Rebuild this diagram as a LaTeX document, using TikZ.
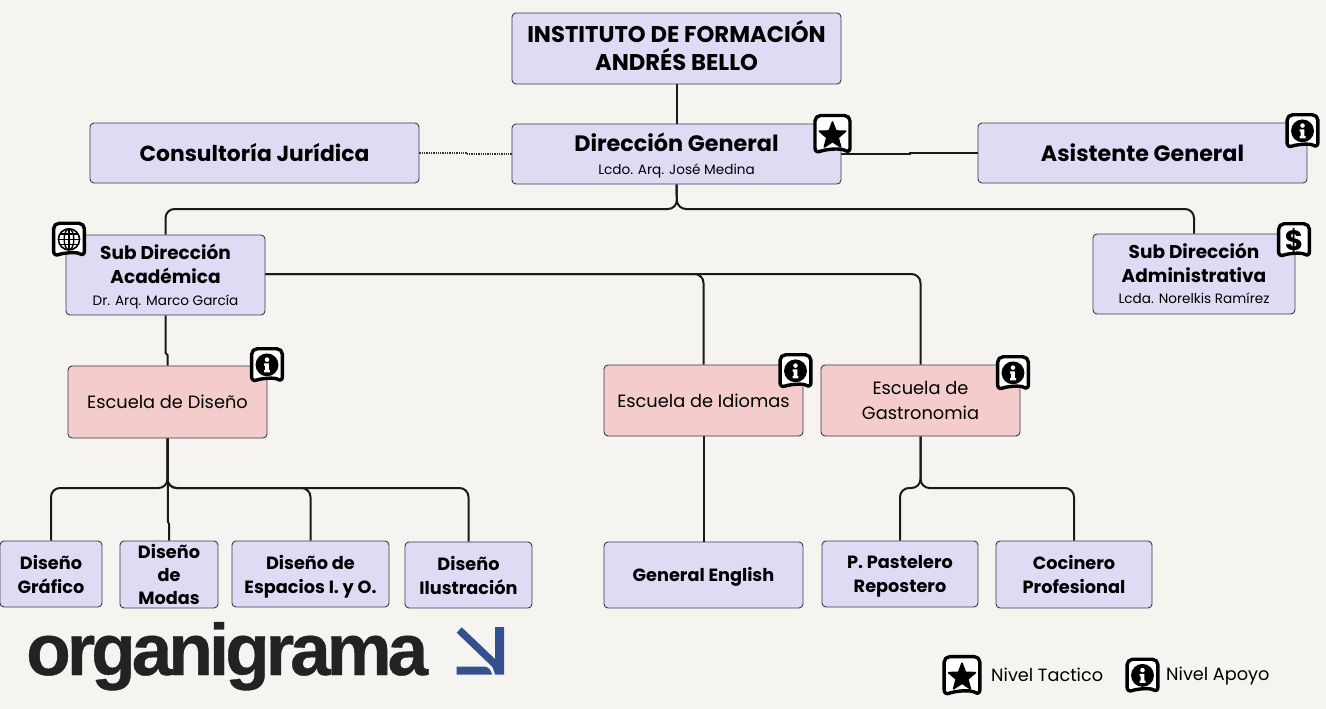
\documentclass[tikz,border=0pt]{standalone}
\usepackage{fontspec}
\setmainfont{Poppins}
\newfontfamily\bigfont[LetterSpace=-5.5,FakeBold=0.5,UprightFont=* Bold]{Liberation Sans}
\usetikzlibrary{backgrounds}
\definecolor{bgc}{HTML}{F5F4F0}
\definecolor{lilac}{HTML}{E0DAF5}
\definecolor{rosa}{HTML}{F4CCCC}
\definecolor{edge}{HTML}{3A3A45}
\definecolor{logoblue}{HTML}{34508F}
\definecolor{logoink}{HTML}{222222}
\newcommand{\tS}{\fontsize{13.6}{15}\selectfont\mdseries}
\tikzset{
  x=1pt,y=-1pt,
  box/.style={draw=edge,line width=.9pt,rounded corners=4pt,inner sep=0pt,align=center,text=black},
  lila/.style={box,fill=lilac},
  pink/.style={box,fill=rosa},
  titlefont/.style={font=\fontsize{22.7}{28}\selectfont\bfseries},
  headfont/.style={font=\fontsize{22.2}{28}\selectfont\bfseries},
  jurfont/.style={font=\fontsize{21.8}{28}\selectfont\bfseries},
  dgfont/.style={font=\fontsize{22.3}{22.5}\selectfont\bfseries},
  subfont/.style={font=\fontsize{18.5}{24}\selectfont\bfseries},
  unitfont/.style={font=\fontsize{17.8}{25}\selectfont},
  leaffont/.style={font=\fontsize{17.7}{24}\selectfont\bfseries},
  modafont/.style={font=\fontsize{17.7}{23}\selectfont\bfseries},
  legendfont/.style={font=\fontsize{17.7}{20}\selectfont},
  link/.style={draw=black!90,line width=2pt,rounded corners=9pt},
  fine/.style={draw=black!80,line width=1.3pt,densely dotted},
  pics/badge/.style={code={
    \path[fill=white,draw=black,line width=3.4pt,rounded corners=5.5pt,line join=round]
      (-17.5,-19) -- (17.5,-19) -- (17.5,19) .. controls (8,13) and (-8,15) .. (-17.5,19) -- cycle;
  }},
  pics/staricon/.style={code={
    \path[fill=black,draw=black,line width=1.6pt,line join=round]
      (0,-14)--(3.4,-5)--(13.2,-4.8)--(5.6,1.6)--(8.2,11)--(0,5.6)--(-8.2,11)--(-5.6,1.6)--(-13.2,-4.8)--(-3.4,-5)--cycle;
  }},
  pics/infoicon/.style={code={
    \fill[black] (0,-3) circle[radius=13];
    \fill[white] (0,-9) circle[radius=2.6];
    \fill[white] (-3.2,-4.8) -- (2.2,-4.8) -- (2.2,3) -- (3.4,3) -- (3.4,5.6) -- (-3.4,5.6) -- (-3.4,3) -- (-2.2,3) -- (-2.2,-2.2) -- (-3.2,-2.2) -- cycle;
  }},
  pics/globeicon/.style={code={
    \draw[black,line width=1.6pt] (0,-3) circle[radius=12];
    \draw[black,line width=1.4pt] (0,-3) ellipse[x radius=5.5,y radius=12];
    \draw[black,line width=1.4pt] (0,-15) -- (0,9) (-12,-3) -- (12,-3)
      (-10.5,-9) -- (10.5,-9) (-10.5,3) -- (10.5,3);
  }},
  pics/dollaricon/.style={code={
    \node (dollarsign) at (0,-2) {\fontsize{28}{28}\selectfont\bfseries\$};
  }},
}
\begin{document}
\begin{tikzpicture}
\useasboundingbox (0,0) rectangle (1326,709);
% boxes
\node[lila,titlefont,text depth=7pt,minimum width=329pt,minimum height=71pt] (inst) at (676.5,48.5) {INSTITUTO DE FORMACIÓN\\ANDRÉS BELLO};
\node[lila,dgfont,text depth=1pt,minimum width=329pt,minimum height=60pt] (dg) at (676.5,154) {Dirección General\\{\tS Lcdo. Arq. José Medina}};
\node[lila,jurfont,minimum width=329pt,minimum height=60pt] (cj) at (254.5,153) {Consultoría Jurídica};
\node[lila,headfont,minimum width=329pt,minimum height=60pt] (ag) at (1142.5,153) {Asistente General};
\node[lila,subfont,text depth=0pt,minimum width=199pt,minimum height=80pt] (sda) at (165.5,275) {Sub Dirección\\Académica\\[-2pt]{\tS Dr. Arq. Marco García}};
\node[lila,subfont,text depth=1pt,minimum width=202pt,minimum height=80pt] (sdad) at (1194,274) {Sub Dirección\\Administrativa\\[-3pt]{\tS Lcda. Norelkis Ramírez}};
\node[pink,unitfont,minimum width=199pt,minimum height=72pt] (ed) at (167.5,402) {Escuela de Diseño};
\node[pink,unitfont,minimum width=199pt,minimum height=71pt] (ei) at (703.5,400.5) {Escuela de Idiomas};
\node[pink,unitfont,minimum width=199pt,minimum height=71pt] (eg) at (920.5,400.5) {Escuela de\\Gastronomia};
\node[lila,leaffont,minimum width=102pt,minimum height=66pt] (dgraf) at (51,574) {Diseño\\Gráfico};
\node[lila,modafont,minimum width=98pt,minimum height=67pt] (dmod) at (169,574.5) {Diseño\\de\\Modas};
\node[lila,leaffont,text depth=0pt,minimum width=157pt,minimum height=66pt] (dep) at (310.5,574) {Diseño de\\Espacios I. y O.};
\node[lila,leaffont,minimum width=127pt,minimum height=66pt] (dil) at (468.5,575) {Diseño\\Ilustración};
\node[lila,leaffont,text depth=1pt,minimum width=199pt,minimum height=66pt] (ge) at (703.5,575) {General English};
\node[lila,leaffont,text depth=0pt,minimum width=156pt,minimum height=66pt] (pp) at (900,574) {P. Pastelero\\Repostero};
\node[lila,leaffont,minimum width=156pt,minimum height=67pt] (coc) at (1074,574.5) {Cocinero\\Profesional};
% connector helpers
\coordinate (forkA) at (677,209);
\coordinate (forkB) at (167.5,488);
\coordinate (forkC) at (920.5,488);
\coordinate (stepL) at (466,153);
\coordinate (stepR) at (910,153);
\begin{scope}[on background layer]
\fill[bgc] (0,0) rectangle (1326,709);
\draw[link] (inst.south) -- (dg.north);
\draw[fine] (cj.east) -- (stepL) -- (stepL |- dg.west) -- (dg.west);
\draw[link,rounded corners=0pt] (dg.east) -- (stepR |- dg.east) -- (stepR) -- (ag.west);
\draw[link] (dg.south) -- (forkA) -- (forkA -| sda.north) -- (sda.north);
\draw[link] (dg.south) -- (forkA) -- (forkA -| sdad.north) -- (sdad.north);
\draw[link] (sda.east |- 0,274) -- (703.5,274) -- (ei.north);
\draw[link] (sda.east |- 0,274) -- (920.5,274) -- (eg.north);
\draw[link,rounded corners=0pt] (sda.south) -- (165.5,353) -- (167.5,355) -- (ed.north);
\draw[link] (ed.south) -- (forkB) -- (forkB -| dgraf.north) -- (dgraf.north);
\draw[link,rounded corners=0pt] (ed.south) -- (168,522) -- (169,524) -- (dmod.north);
\draw[link] (ed.south) -- (forkB) -- (forkB -| dep.north) -- (dep.north);
\draw[link] (ed.south) -- (forkB) -- (forkB -| dil.north) -- (dil.north);
\draw[link] (ei.south) -- (ge.north);
\draw[link] (eg.south) -- (forkC) -- (forkC -| pp.north) -- (pp.north);
\draw[link] (eg.south) -- (forkC) -- (forkC -| coc.north) -- (coc.north);
\end{scope}
% badges
\pic at (832.5,134.5) {badge}; \pic at (832.5,136) {staricon};
\pic[scale=.88] at (1302.5,131.5) {badge}; \pic[scale=.88] at (1302.5,133.5) {infoicon};
\pic[scale=.88] at (69,240) {badge}; \pic[scale=.88] at (69,242) {globeicon};
\pic[scale=.88] at (1294,240.5) {badge}; \pic[scale=.88] at (1294,242.5) {dollaricon};
\pic[scale=.88] at (267,365.5) {badge}; \pic[scale=.88] at (267,367.5) {infoicon};
\pic[scale=.88] at (795.5,371.5) {badge}; \pic[scale=.88] at (795.5,373.5) {infoicon};
\pic[scale=.88] at (1013,373.5) {badge}; \pic[scale=.88] at (1013,375.5) {infoicon};
% legend
\pic[scale=1.02] at (962,676) {badge}; \pic[scale=1.02] at (962,677.5) {staricon};
\node[legendfont,anchor=west,inner sep=0pt] (ltact) at (991,675) {Nivel Tactico};
\pic[scale=.88] at (1142.5,676) {badge}; \pic[scale=.88] at (1142.5,678) {infoicon};
\node[legendfont,anchor=west,inner sep=0pt] (lapoyo) at (1166,676) {Nivel Apoyo};
% logo
\node[anchor=base west,inner sep=0pt,text=logoink] (logo) at (26,675) {\fontsize{73}{73}\bigfont organigrama};
\fill[logoblue] (495,627) -- (504,627) -- (504,674.5) -- (495,674.5) -- (492.5,667) -- (456.7,632.7) -- (461.7,627.3) -- (495,659) -- cycle;
\fill[logoblue] (456.7,666.7) -- (485,666.7) .. controls (489,667.5) and (491,670) .. (492,674.5) -- (456.7,674.5) -- cycle;
\end{tikzpicture}
\end{document}
